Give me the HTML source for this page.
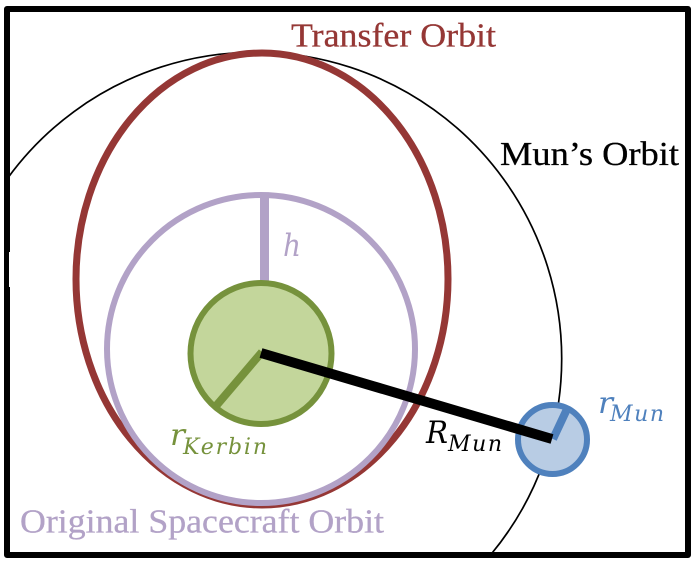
<!DOCTYPE html>
<html>
<head>
<meta charset="utf-8">
<style>
html,body{margin:0;padding:0;background:#fff;width:695px;height:563px;overflow:hidden}
svg{display:block}
text{font-family:"Liberation Serif",serif}
text.m{font-family:"DejaVu Serif",serif;font-style:italic}
</style>
</head>
<body>
<svg width="695" height="563" viewBox="0 0 695 563" xmlns="http://www.w3.org/2000/svg">
<rect width="695" height="563" fill="#fff"/>
<path d="M8 177.7A306.4 306.4 0 0 1 561.7 358.6A306.4 306.4 0 0 1 491.3 554" fill="none" stroke="#000" stroke-width="1.7"/>
<ellipse cx="262" cy="279" rx="186" ry="226" fill="none" stroke="#953735" stroke-width="7"/>
<circle cx="261" cy="349" r="154" fill="none" stroke="#b2a2c7" stroke-width="6"/>
<rect x="260" y="195" width="9" height="90" fill="#b2a2c7"/>
<circle cx="261" cy="353.5" r="70.5" fill="#c3d69b" stroke="#76923c" stroke-width="6"/>
<line x1="262" y1="352" x2="216" y2="406" stroke="#76923c" stroke-width="8"/>
<circle cx="552.5" cy="439.5" r="34.5" fill="#b8cce4" stroke="#4f81bd" stroke-width="6"/>
<line x1="553" y1="439" x2="568" y2="407" stroke="#4f81bd" stroke-width="8"/>
<line x1="261" y1="353" x2="552" y2="439" stroke="#000" stroke-width="10"/>
<path d="M7 9H688V555H7Z" fill="none" stroke="#000" stroke-width="6" stroke-linejoin="round"/>
<rect x="9" y="252" width="1.4" height="35" fill="#fff"/>
<text x="291" y="46.5" font-size="34" fill="#953735" stroke="#953735" stroke-width="0.3" textLength="205" lengthAdjust="spacingAndGlyphs">Transfer Orbit</text>
<text x="500" y="165" font-size="34" fill="#000" stroke="#000" stroke-width="0.3" textLength="179" lengthAdjust="spacingAndGlyphs">Mun’s Orbit</text>
<text x="20" y="532.5" font-size="34" fill="#b2a2c7" stroke="#b2a2c7" stroke-width="0.3" textLength="364" lengthAdjust="spacingAndGlyphs">Original Spacecraft Orbit</text>
<text class="m" x="283" y="256" font-size="31" fill="#b2a2c7" textLength="18" lengthAdjust="spacingAndGlyphs">h</text>
<text class="m" x="170" y="445" font-size="30" fill="#76923c" textLength="15" lengthAdjust="spacingAndGlyphs">r</text>
<text class="m" x="183" y="454" font-size="22" fill="#76923c" textLength="84" lengthAdjust="spacing">Kerbin</text>
<text class="m" x="426" y="443" font-size="31" fill="#000" textLength="22" lengthAdjust="spacingAndGlyphs">R</text>
<text class="m" x="448" y="451" font-size="22" fill="#000" textLength="54" lengthAdjust="spacing">Mun</text>
<text class="m" x="598" y="413" font-size="30" fill="#4f81bd" textLength="15" lengthAdjust="spacingAndGlyphs">r</text>
<text class="m" x="610" y="421" font-size="22" fill="#4f81bd" textLength="54" lengthAdjust="spacing">Mun</text>
</svg>
</body>
</html>
